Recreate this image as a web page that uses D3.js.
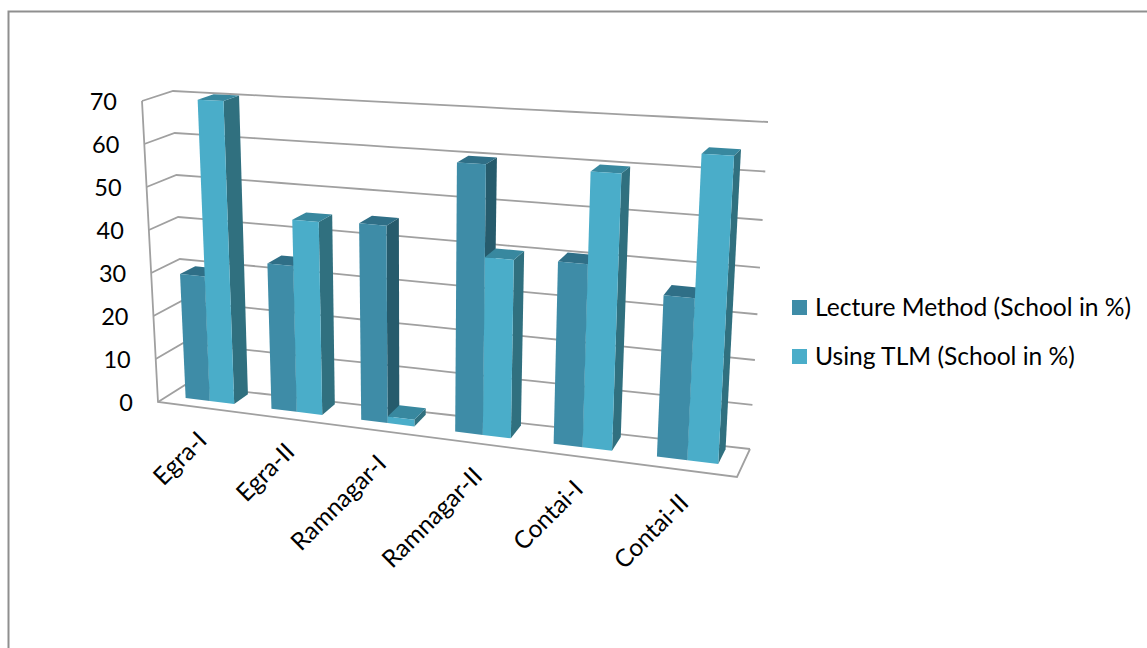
<!DOCTYPE html>
<html>
<head>
<meta charset="utf-8">
<script src="https://cdn.jsdelivr.net/npm/d3@7/dist/d3.min.js"></script>
<style>
html,body{margin:0;padding:0;background:#fff;overflow:hidden}
text{font-family:Lato,"Open Sans",sans-serif;fill:#000}
</style>
</head>
<body>
<svg id="chart" width="1147" height="648"></svg>
<script>
const categories = ["Egra-I","Egra-II","Ramnagar-I","Ramnagar-II","Contai-I","Contai-II"];
const seriesNames = ["Lecture Method (School in %)","Using TLM (School in %)"];
const lectureValues = [29,33.5,44.5,59.5,40,35];
const tlmValues = [70,44,1.5,39.5,59.5,64.5];
const valueTicks = [0,10,20,30,40,50,60,70];

const palette = [
  {front:"#3e8ca7",side:"#265b6c",top:"#2f6f87"},
  {front:"#4aadc9",side:"#30707f",top:"#38889f"}
];

const svg = d3.select("#chart");

// Corners of the plot box in screen space: front/back, left/right, floor/ceiling.
const box = {
  fl0:[158,402], fl1:[142,101],
  bl0:[185,385], bl1:[173,91],
  fr0:[737,477], fr1:[756,133],
  br0:[750,449], br1:[768,122]
};
const lerp = (a,b,t)=>a+(b-a)*t;
const mix = (p,q,t)=>[lerp(p[0],q[0],t),lerp(p[1],q[1],t)];

const yScale = d3.scaleLinear().domain([0,70]).range([0,1]);
const catScale = d3.scaleBand().domain(categories).range([0,1]);
const serScale = d3.scaleBand().domain([0,1]).range([0,catScale.bandwidth()]).paddingInner(0).paddingOuter(0.75);
const foreshorten = 1.15;
const riseAtRight = 0.07;
const depthFront = 0.36, depthBack = 0.9;

// Maps a position along the category axis, a value and a depth to the screen.
function project(u,value,depth){
  const t = u/(u+foreshorten*(1-u));
  const f = yScale(value);
  const k = 1+riseAtRight*t;
  const h = f/(f+k*(1-f));
  const left = mix(mix(box.fl0,box.bl0,depth),mix(box.fl1,box.bl1,depth),h);
  const right = mix(mix(box.fr0,box.br0,depth),mix(box.fr1,box.br1,depth),h);
  return mix(left,right,t);
}
const path = d3.line();
const grid = svg.append("g").attr("fill","none").attr("stroke","#a0a0a0").attr("stroke-width",1.8);

// Outer frame: only the top and left edges fall inside the page.
svg.append("path").attr("d",path([[8.5,660],[8.5,11.5],[1160,11.5]]))
  .attr("fill","none").attr("stroke","#8f8f8f").attr("stroke-width",2);

// Side wall and back wall rules.
valueTicks.forEach(v=>{
  const wall = d3.range(0,1.01,0.05).map(u=>project(u,v,1));
  grid.append("path").attr("d",path([project(0,v,0),...wall]));
});
grid.append("path").attr("d",path([project(0,70,0),project(0,0,0),project(1,0,0),project(1,0,1)]));

// Bars, painted left to right so nearer faces overlap correctly.
const bars = svg.append("g");
categories.forEach((c,i)=>{
  [lectureValues[i],tlmValues[i]].forEach((v,s)=>{
    const u0 = catScale(c)+serScale(s), u1 = u0+serScale.bandwidth();
    const col = palette[s];
    const g = bars.append("g");
    g.append("path").attr("fill",col.side).attr("d",path([project(u1,0,depthFront),project(u1,0,depthBack),project(u1,v,depthBack),project(u1,v,depthFront)])+"Z");
    g.append("path").attr("fill",col.top).attr("d",path([project(u0,v,depthFront),project(u1,v,depthFront),project(u1,v,depthBack),project(u0,v,depthBack)])+"Z");
    g.append("path").attr("fill",col.front).attr("d",path([project(u0,0,depthFront),project(u1,0,depthFront),project(u1,v,depthFront),project(u0,v,depthFront)])+"Z");
  });
});

// Value labels hug the front edge of the side wall.
valueTicks.forEach(v=>{
  const p = project(0,v,0);
  svg.append("text").attr("x",p[0]-25).attr("y",p[1]+8.5).attr("text-anchor","end")
    .attr("font-size",23.5).text(v);
});

// Category labels, rotated under the front floor edge.
categories.forEach(c=>{
  const p = project(catScale(c)+catScale.bandwidth()/2,0,0);
  svg.append("text").attr("text-anchor","end")
    .attr("transform",`translate(${p[0]+8},${p[1]+34.5}) rotate(-45)`)
    .attr("font-size",24.5).text(c);
});

// Legend
const legendY = [300,349];
seriesNames.forEach((name,i)=>{
  svg.append("rect").attr("x",792).attr("y",legendY[i]).attr("width",15).attr("height",15).attr("fill",palette[i].front);
  svg.append("text").attr("x",815).attr("y",legendY[i]+16).attr("font-size",24.6).text(name);
});
</script>
</body>
</html>
